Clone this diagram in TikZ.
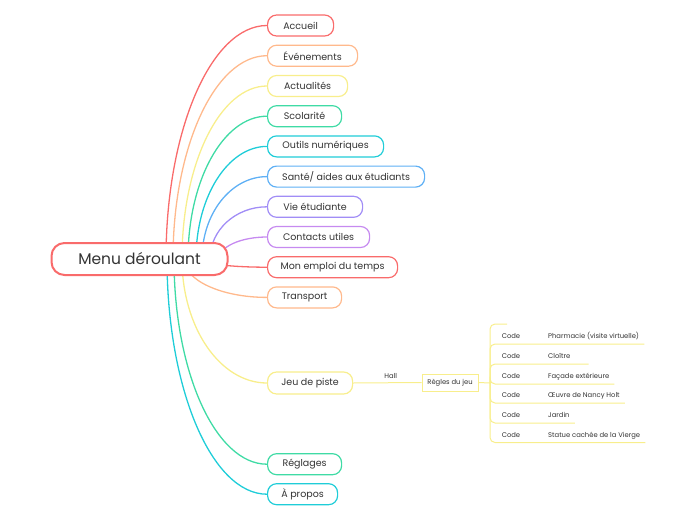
\documentclass[tikz,border=0pt]{standalone}
\usepackage{fontspec}
\setmainfont{Poppins}
\usetikzlibrary{calc,backgrounds}

\definecolor{cred}{HTML}{F96B6B}
\definecolor{corange}{HTML}{FFB98C}
\definecolor{cyellow}{HTML}{F8EE8C}
\definecolor{cgreen}{HTML}{3FDBA5}
\definecolor{ccyan}{HTML}{1FCDD8}
\definecolor{cblue}{HTML}{5FB0F5}
\definecolor{cpurple}{HTML}{A18DF6}
\definecolor{cviolet}{HTML}{C68AF0}
\definecolor{ctext}{HTML}{333333}

\tikzset{
	topic/.style={draw=#1, line width=1.2pt, rounded corners=9pt, fill=white, text=ctext,
		minimum height=21pt, inner sep=0pt, anchor=west, font=\fontsize{9.5}{11}\selectfont},
	branch/.style={draw=#1, line width=1.3pt,
		to path={.. controls ($(\tikztostart)!0.552!(\tikztostart |- \tikztotarget)$)
			and ($(\tikztotarget)!0.552!(\tikztostart |- \tikztotarget)$) .. (\tikztotarget)}},
	small/.style={text=ctext, inner sep=0pt, font=\fontsize{6.8}{8}\selectfont},
	thin/.style={draw=cyellow, line width=1pt},
}

\begin{document}
\begin{tikzpicture}[x=1pt,y=1pt]
		\useasboundingbox (0,0) rectangle (697,-520);
		% root
		\node [draw=cred, line width=2pt, rounded corners=13pt, fill=white, text=ctext,
			minimum width=176pt, minimum height=32pt, inner sep=0pt,
			font=\fontsize{15.5}{18}\selectfont] (menu) at (139.5,-259) {Menu déroulant};
		% topics
		\node [topic=cred, minimum width=66pt] (accueil) at (267,-25.5) {Accueil};
		\node [topic=corange, minimum width=90pt] (evenements) at (267,-55.7) {Événements};
		\node [topic=cyellow, minimum width=80pt] (actualites) at (267,-86) {Actualités};
		\node [topic=cgreen, minimum width=74pt] (scolarite) at (267,-116.2) {Scolarité};
		\node [topic=ccyan, minimum width=116pt] (outils) at (267,-146.4) {Outils numériques};
		\node [topic=cblue, minimum width=157pt] (sante) at (267,-176.6) {Santé/ aides aux étudiants};
		\node [topic=cpurple, minimum width=95pt] (vie) at (267,-206.8) {Vie étudiante};
		\node [topic=cviolet, minimum width=102pt] (contacts) at (267,-237) {Contacts utiles};
		\node [topic=cred, minimum width=130pt] (emploi) at (267,-267.2) {Mon emploi du temps};
		\node [topic=corange, minimum width=74pt] (transport) at (267,-297.4) {Transport};
		\node [topic=cyellow, minimum width=85pt, minimum height=22pt] (jeu) at (267,-383) {Jeu de piste};
		\node [topic=cgreen, minimum width=74pt] (reglages) at (267,-464.2) {Réglages};
		\node [topic=ccyan, minimum width=70pt] (apropos) at (267,-494.2) {À propos};
		% branches behind the root
		\begin{scope}[on background layer]
		\draw [branch=cred] ([xshift=26.5pt]menu.center) to (accueil.west);
		\draw [branch=corange] ([xshift=33.5pt]menu.center) to (evenements.west);
		\draw [branch=cyellow] ([xshift=42.5pt]menu.center) to (actualites.west);
		\draw [branch=cgreen] ([xshift=48.5pt]menu.center) to (scolarite.west);
		\draw [branch=ccyan] ([xshift=56.5pt]menu.center) to (outils.west);
		\draw [branch=cblue] ([xshift=62.5pt]menu.center) to (sante.west);
		\draw [branch=cpurple] ([xshift=70.5pt]menu.center) to (vie.west);
		\draw [branch=cviolet] ([xshift=79.5pt]menu.center) to (contacts.west);
		\draw [branch=cred] ([xshift=60.5pt]menu.center) to (emploi.west);
		\draw [branch=corange] ([xshift=44.5pt]menu.center) to (transport.west);
		\draw [branch=cyellow] ([xshift=42.5pt]menu.center) to (jeu.west);
		\draw [branch=cgreen] ([xshift=34.5pt]menu.center) to (reglages.west);
		\draw [branch=ccyan] ([xshift=27.5pt]menu.center) to (apropos.west);
		\end{scope}
		% jeu de piste
		\node [small, draw=cyellow, line width=1pt, fill=white, minimum width=56pt, minimum height=17pt] (regles) at (450,-382.5) {Règles du jeu};
		\draw [thin] (jeu.east) -- node [small, above=4pt, pos=0.55] (hall) {Hall} (regles.west);
		\coordinate (fork) at (490,-383);
		\coordinate (blank) at (507,-324);
		\draw [thin] (regles.east) -- (fork);
		\draw [thin, rounded corners=5pt] (fork) |- (blank);
		\foreach \i/\y/\lab/\ext in {1/344/Pharmacie (visite virtuelle)/5,2/364/Cloître/18,3/384/Façade extérieure/5,
			4/403/Œuvre de Nancy Holt/5,5/423/Jardin/5,6/442.5/Statue cachée de la Vierge/5}{
			\node [small, anchor=base] (code\i) at (511,-\y+5.5) {Code};
			\node [small, anchor=base west] (lab\i) at (548,-\y+5.5) {\lab};
			\draw [thin, rounded corners=5pt] (fork) |- ([xshift=\ext pt]lab\i.east |- 0,-\y);
		}
		\end{tikzpicture}
\end{document}
